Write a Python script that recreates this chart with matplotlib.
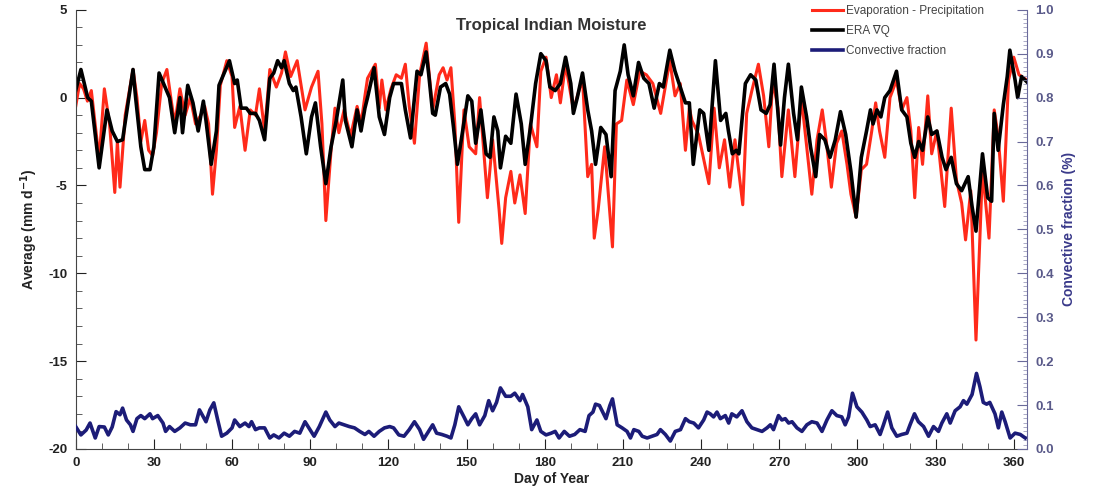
import matplotlib
matplotlib.use("Agg")
import matplotlib.pyplot as plt
from matplotlib.ticker import MultipleLocator

plt.rcParams['font.family'] = ['Liberation Sans', 'DejaVu Sans']
plt.rcParams['axes.unicode_minus'] = False

# ERA moisture flux convergence (mm/d)
era_day = [0, 2, 4.6, 6, 9, 12, 14, 16, 18, 20, 22, 23, 25, 26.5, 28.5, 30, 32, 34, 36, 38,
           40, 41, 43, 45, 47, 49, 50, 52, 54, 55, 57, 59, 61, 62, 63.5, 65.5, 67, 69, 70.5, 72.5,
           74.5, 76, 77.5, 79, 80, 82, 83.5, 84.5, 86.5, 88.5, 90.5, 92, 94, 96, 98, 100, 102.5, 103.5, 106, 108,
           109.5, 111, 112, 113.5, 114.5, 116.5, 118.5, 120.5, 122, 125, 126.5, 128.5, 131, 132.5, 134.5, 135.5, 137, 138, 140, 142,
           143.5, 145, 146.5, 148.5, 150.5, 152, 153.5, 155.5, 157.5, 159, 160.5, 162, 163, 165, 167, 169, 171, 172.5, 174.5, 176.5,
           178.5, 180.5, 182, 184, 186, 188, 190, 191, 192.5, 194.5, 196.5, 198, 199.5, 201.5, 203.5, 205.5, 207, 209, 210.5, 212,
           214, 216, 218, 220, 222, 224, 225.5, 228, 230, 232, 234, 235.5, 237, 239.5, 241, 243, 245.5, 247.5, 249.5, 250.5,
           252, 253.5, 254.5, 257, 259, 261, 263, 265, 266.5, 268, 270.5, 272, 273.5, 275.5, 277, 278.5, 280.5, 282, 284, 285.5,
           287.5, 289.5, 291.5, 293.5, 295.5, 297.5, 299.5, 301.5, 303.5, 305, 306, 307.5, 309, 310.5, 312.5, 315, 317, 319, 320.5, 322,
           323.5, 325, 327, 328.5, 330.5, 332.5, 334, 336, 338, 340, 342.5, 344, 345.5, 348, 350, 351.5, 352.5, 354, 356, 357.5,
           358.5, 360.5, 361.5, 363, 365]
era_val = [0.4, 1.6, 0, -0.2, -4.0, -0.7, -1.9, -2.5, -2.4, -0.4, 1.6, 0, -2.8, -4.1, -4.1, -2.8, 1.4, 0.7, 0, -2.0,
           0, -2.0, 0.7, -0.3, -1.9, -0.2, -1.3, -3.8, -1.9, 0.7, 1.4, 2.1, 0.8, 1.0, -0.6, -0.6, -0.9, -0.9, -1.3, -2.4,
           1.1, 1.4, 2.1, 1.7, 2.1, 0.8, 0.4, 0.6, -1.1, -3.2, -1.1, -0.3, -2.8, -4.9, -2.8, -1.3, 1.0, -1.3, -2.8, -0.7,
           -1.9, -0.6, 0, 1.0, 1.7, -1.1, -2.1, 0, 0.8, 0.8, -0.7, -2.3, 1.5, 1.3, 2.6, 1.3, -0.9, -1.0, 0.6, 0.8,
           0.2, -1.7, -3.8, -1.9, 0.1, -0.2, -2.6, -0.7, -3.2, -3.4, -1.1, -1.9, -4.0, -2.2, -2.6, 0.2, -1.5, -3.8, -1.7, 0.8,
           2.5, 2.1, 0.6, 0.4, 0.8, 2.3, 0.8, -0.9, 0, 1.4, -0.7, -1.9, -3.8, -1.7, -2.1, -4.5, 0.4, 1.5, 3.0, 1.3,
           0.1, 2.0, 1.1, 0.8, -0.6, 0.8, 0.6, 2.7, 1.5, 0.6, -0.3, -0.3, -3.8, -0.7, -0.9, -3.0, 2.1, -1.3, -0.9, -1.9,
           -3.2, -3.0, -3.2, 0.8, 1.3, 1.0, -0.7, -0.9, -0.4, 1.9, -2.7, 0, 1.9, -0.9, -2.4, 0.6, -1.1, -2.8, -4.5, -2.1,
           -2.4, -3.4, -2.4, -0.8, -2.1, -4.2, -6.8, -3.4, -1.9, -0.7, -1.5, -0.7, -1.1, 0, 0.4, 1.5, -0.7, -1.1, -2.6, -3.4,
           -2.5, -3.0, -1.1, -2.1, -1.9, -3.4, -4.1, -3.4, -4.9, -5.3, -4.5, -6.2, -7.6, -3.2, -5.7, -5.9, -0.9, -3.0, -0.4, 1.2,
           2.7, 1.0, 0, 1.2, 0.9]

# Evaporation minus precipitation (mm/d)
emp_day = [0, 1.5, 3, 4.5, 6, 9, 11, 13, 15, 16, 17, 19, 22, 23.5, 25, 26.5, 28, 29.5, 31, 33,
           35, 36.5, 38, 40, 42, 44, 46, 48, 49.5, 51, 52.5, 54, 55.5, 58, 60, 61, 63, 65, 67, 69,
           70.5, 72.5, 74.5, 76, 77, 79, 80.5, 82.5, 85, 88, 90.5, 93, 94.5, 96, 98, 99.5, 101, 103, 105.5, 108,
           109.5, 111, 112, 115, 116.5, 117.5, 119, 121, 123, 125, 126.5, 128, 130, 132, 134.5, 137, 139.5, 141, 142.5, 144,
           145.5, 147, 149, 151, 153.5, 155, 158, 160, 162.5, 163.5, 165, 167, 168.5, 170.5, 172.5, 174.5, 177, 178.5, 180.5, 182.5,
           184.5, 186, 188, 191, 194.5, 196.5, 198, 199, 200.5, 203, 206, 207.5, 209.5, 211.5, 214, 216.5, 219, 221.5, 224.5, 228,
           230, 232, 234, 235.5, 236.5, 239, 243, 245, 247, 249, 251, 253, 256, 257.5, 259.5, 262, 264, 266, 267.5, 269.5,
           271, 273.5, 276, 278.5, 282.5, 284.5, 286.5, 288, 290, 292, 294, 296, 297.5, 299.5, 301.5, 303.5, 305.5, 307, 308.5, 310.5,
           312.5, 315, 317, 319, 320.5, 322, 323.5, 325, 327, 328.5, 330.5, 333.5, 336, 338, 340, 341.5, 343.5, 345.5, 348, 350.5,
           352.5, 354, 356, 358, 360, 362, 365]
emp_val = [-0.5, 0.8, 0.5, -0.2, 0.4, -3.5, 0.5, -1.5, -5.4, -2.5, -5.1, -1.0, 1.6, 0, -2.5, -1.3, -3.0, -3.3, -2.0, 0.8,
           1.6, 0, -1.5, 0.5, -1.0, 0, -1.5, -1.0, -0.5, -1.5, -5.5, -3.0, 0.7, 2.1, 1.2, -1.7, -0.5, -3.0, -0.7, -1.0,
           0.5, -1.9, 1.6, 1.0, 0.6, 1.4, 2.6, 1.2, 2.1, -0.7, 0.6, 1.5, -1.5, -7.0, -3.0, -0.6, -2.0, -0.7, -2.2, -0.5,
           -1.5, 0.1, 1.1, 1.9, -0.6, 1.0, -0.7, 0.5, 1.3, 1.1, 1.9, -0.5, -2.6, 1.3, 3.1, -0.7, 1.3, 1.7, 1.0, 1.7,
           -1.5, -7.1, -0.7, -2.8, -3.2, 0, -5.7, -2.4, -6.4, -8.3, -5.7, -4.2, -6.0, -4.4, -6.6, -1.5, -2.8, 1.5, 2.3, 0,
           1.3, -0.3, 1.9, -0.7, 1.1, -4.5, -3.8, -8.0, -6.4, -2.8, -8.5, -1.5, -1.3, 1.0, -0.4, 1.5, 1.3, 0.8, -0.9, 2.1,
           0.1, 0.8, -3.0, -0.6, -1.3, -2.1, -4.9, -0.6, -4.0, -2.4, -5.1, -2.4, -6.1, -0.9, 0.4, 1.9, 0.1, -2.8, 1.0, -0.6,
           -4.5, -0.7, -4.5, 0, -5.5, -2.4, -0.7, -2.4, -5.1, -2.6, -1.9, -3.8, -5.5, -6.8, -4.1, -3.8, -1.9, -0.3, -1.9, -3.4,
           0, 1.0, -0.7, 0, -1.9, -5.7, -1.7, -3.8, 0.1, -3.2, -1.9, -6.2, -0.6, -4.7, -6.0, -8.1, -5.3, -13.8, -4.1, -8.0,
           -0.7, -2.2, -5.9, 1.0, 2.3, 1.3, 1.0]

# Convective fraction (0-1)
conv_day = [0, 2, 4, 5.5, 7.5, 9, 11, 12.5, 14, 15.5, 17, 18, 19.5, 21, 22, 23.5, 25, 26.5, 28.5, 29.5,
            31.5, 33.5, 34.5, 36, 38, 40, 42, 44, 46, 47.5, 49, 50, 51.5, 53, 54.5, 56, 58, 60, 61, 63,
            65, 66.5, 67.5, 69, 70.5, 72.5, 74.5, 76, 78, 80, 82, 84, 86, 88, 89.5, 91.5, 93.5, 96, 97.5, 99.5,
            101, 103, 105, 107, 109, 111, 112.5, 114.5, 116.5, 118.5, 120.5, 122, 124, 126, 128, 130, 132, 133.5, 135, 137,
            138.5, 140.5, 142.5, 144, 145.5, 147, 149, 150.5, 152, 153.5, 155, 157, 158.5, 160, 161.5, 163, 165, 167, 168.5, 170.5,
            171.5, 173.5, 175, 177, 178.5, 180.5, 182.5, 184, 185.5, 187.5, 189.5, 191.5, 193.5, 195.5, 197, 198.5, 199.5, 201, 202, 203.5,
            205, 206, 207.8, 209.7, 211.6, 212.9, 214.2, 216.1, 217.4, 219.3, 221.2, 223.1, 224.4, 226.3, 228.2, 230.1, 232.1, 234, 235.5, 237.2,
            239, 241, 242.3, 243.5, 244.8, 246.1, 247.4, 249.3, 250.6, 251.8, 253.7, 255.7, 257.6, 259.5, 261.5, 263.4, 265.3, 266.6, 267.8, 269.7,
            271, 272.3, 273.6, 274.9, 276.8, 278.7, 280.6, 282.5, 284.5, 286.4, 288.3, 290.2, 292.1, 294, 295.3, 296.6, 298.1, 299.8, 301.7, 303.6,
            304.9, 306.8, 308.7, 310, 311.6, 313.2, 315.1, 317, 319, 320.2, 321.9, 323.4, 325.4, 327.3, 329.2, 331.1, 332.4, 334.3, 335.6, 337.5,
            339.4, 340.7, 342, 344, 345.7, 347, 348.3, 349.6, 350.8, 352.8, 354.1, 355.4, 356.7, 358.6, 360.5, 362.5, 364.4]
conv_val = [.051, .032, .043, .059, .025, .051, .050, .032, .050, .085, .078, .093, .066, .055, .040, .069, .076, .069, .080, .069,
            .076, .059, .040, .051, .040, .048, .059, .055, .055, .089, .073, .062, .089, .105, .066, .029, .036, .048, .066, .051,
            .059, .051, .062, .044, .048, .048, .025, .032, .025, .036, .029, .040, .036, .062, .048, .029, .051, .084, .066, .051,
            .059, .055, .051, .048, .040, .033, .040, .029, .040, .048, .051, .048, .032, .029, .044, .062, .044, .022, .036, .055,
            .036, .033, .029, .025, .055, .096, .073, .055, .069, .080, .055, .076, .110, .087, .106, .139, .120, .120, .127, .110,
            .124, .096, .044, .066, .040, .032, .036, .040, .025, .040, .029, .033, .044, .040, .076, .084, .102, .099, .087, .069,
            .099, .114, .055, .048, .040, .025, .044, .040, .029, .025, .029, .033, .044, .033, .018, .040, .044, .069, .062, .059,
            .048, .066, .084, .080, .073, .084, .069, .076, .059, .080, .073, .087, .062, .048, .044, .040, .048, .055, .044, .076,
            .066, .069, .059, .062, .048, .040, .055, .062, .059, .040, .066, .087, .076, .073, .055, .073, .127, .096, .084, .066,
            .051, .055, .033, .055, .084, .048, .029, .033, .036, .055, .080, .062, .051, .029, .051, .040, .059, .080, .059, .087,
            .096, .110, .102, .124, .172, .142, .106, .102, .106, .080, .048, .084, .062, .025, .036, .033, .025]

navy = '#1c1c78'
fig = plt.figure(figsize=(10.97, 4.88), dpi=100)
ax = fig.add_axes([0.069, 0.080, 0.867, 0.900])
ax2 = ax.twinx()

l1, = ax.plot(emp_day, emp_val, color='#ff2a1a', lw=2.2, label='Evaporation - Precipitation')
l2, = ax.plot(era_day, era_val, color='black', lw=2.6, label='ERA \u2207Q')
l3, = ax2.plot(conv_day, conv_val, color=navy, lw=2.6, label='Convective fraction')

ax.set_xlim(0, 365)
ax.set_ylim(-20, 5)
ax2.set_ylim(0, 1)

ax.xaxis.set_major_locator(MultipleLocator(30))
ax.xaxis.set_minor_locator(MultipleLocator(10))
ax.yaxis.set_major_locator(MultipleLocator(5))
ax.yaxis.set_minor_locator(MultipleLocator(1))
ax2.yaxis.set_major_locator(MultipleLocator(0.1))
ax2.yaxis.set_minor_locator(MultipleLocator(0.01))

for a in (ax, ax2):
    a.spines['top'].set_visible(False)
ax.spines['right'].set_visible(False)
ax2.spines['left'].set_visible(False)
ax2.spines['bottom'].set_visible(False)
ax2.spines['right'].set_color('#6a6a9a')
ax.spines['left'].set_color('#444444')
ax.spines['bottom'].set_color('#444444')

ax.tick_params(axis='both', which='major', direction='in', length=7, width=0.8,
               labelsize=9.5, colors='#222222', pad=6)
ax.tick_params(axis='both', which='minor', direction='in', length=4, width=0.6, colors='#444444')
ax2.tick_params(axis='y', which='major', direction='in', length=7, width=0.8,
                labelsize=9.5, colors='#6a6a9a', labelcolor='#5a5a8a', pad=6)
ax2.tick_params(axis='y', which='minor', direction='in', length=3, width=0.5, colors='#8a8ab0')
ax2.yaxis.set_major_formatter(plt.FuncFormatter(lambda v, p: f'{v:.1f}'))
for lab in ax.get_xticklabels() + ax.get_yticklabels() + ax2.get_yticklabels():
    lab.set_fontweight('bold')

ax.set_xlabel('Day of Year', fontsize=10, fontweight='bold', color='#222222', labelpad=2)
ax.set_ylabel('Average (mm d$^{\\mathbf{-1}}$)', fontsize=10, fontweight='bold', color='#222222', labelpad=6)
ax2.set_ylabel('Convective fraction (%)', fontsize=10, fontweight='bold', color='#3a3a8a', labelpad=6)

ax.text(0.5, 0.965, 'Tropical Indian Moisture', transform=ax.transAxes, ha='center', va='center',
        fontsize=12, fontweight='bold', color='#333333')

leg = fig.legend(handles=[l1, l2, l3], loc='upper left', bbox_to_anchor=(0.738, 0.995),
                 frameon=False, fontsize=8.5, handlelength=2.6, handletextpad=0.3,
                 labelspacing=0.7, borderpad=0.2, borderaxespad=0)
for t in leg.get_texts():
    t.set_color('#444444')

fig.savefig('out.png', dpi=100)
